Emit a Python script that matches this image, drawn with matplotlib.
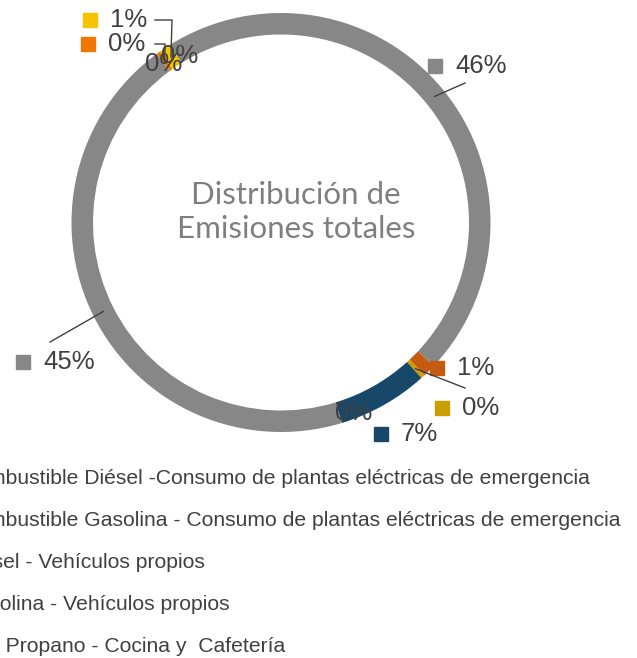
import matplotlib
matplotlib.use('Agg')
import matplotlib.pyplot as plt
import numpy as np

W, H = 637, 658

# slices, clockwise from the top-left
values = [45.9, 1.0, 0.3, 7.0, 0.0, 44.6, 0.0, 0.3, 0.9, 0.0]
colors = ['#878787', '#C55A11', '#C9A000', '#17486A', '#878787',
          '#878787', '#878787', '#F07800', '#F5C400', '#878787']

legend_labels = [
    "Combustible Diésel -Consumo de plantas eléctricas de emergencia",
    "Combustible Gasolina - Consumo de plantas eléctricas de emergencia",
    "Diésel - Vehículos propios",
    "Gasolina - Vehículos propios",
    "Gas Propano - Cocina y  Cafetería",
]

# label layout (image pixels, y down): text left x, text centre y
label_pos = {0: (455, 66), 1: (457, 368), 2: (462, 408), 3: (401, 434),
             5: (43, 362), 7: (108, 44), 8: (110, 20)}
ring_label_shift = {4: (15, 0), 6: (0, 2), 9: (4, 2)}
leaders = {0: [(465, 83)], 2: [(465, 388)], 5: [(50, 342)],
           7: [(165, 44), (155, 44)], 8: [(172, 20), (155, 20)]}

CX, CY, R, RW = 281, 222.5, 209.5, 21.5
TXT = '#404040'

fig = plt.figure(figsize=(W / 100, H / 100), dpi=100)
ax = fig.add_axes([0, 0, 1, 1])

# y axis is inverted (image coords), so counterclock=True draws clockwise on screen
wedges, _ = ax.pie(values, colors=colors, startangle=-122, counterclock=True,
                   radius=R, center=(CX, CY),
                   wedgeprops=dict(width=RW, linewidth=0))
ax.set_xlim(0, W)
ax.set_ylim(H, 0)
ax.set_aspect('auto')
ax.axis('off')

rmid = R - RW / 2
for i, w in enumerate(wedges):
    ang = np.deg2rad((w.theta1 + w.theta2) / 2)
    px, py = CX + rmid * np.cos(ang), CY + rmid * np.sin(ang)
    txt = f"{values[i]:.0f}%"
    if i in label_pos:
        tx, ty = label_pos[i]
        ax.text(tx, ty, txt, ha='left', va='center', fontsize=18.5,
                color=TXT, family='Liberation Sans')
        ax.plot(tx - 20, ty, marker='s', markersize=9.5, color=colors[i],
                linestyle='none')
    else:
        dx, dy = ring_label_shift[i]
        ax.text(px + dx, py + dy, txt, ha='center', va='center', fontsize=18.5,
                color=TXT, family='Liberation Sans')
    if i in leaders:
        pts = [(px, py)] + leaders[i]
        ax.plot([p[0] for p in pts], [p[1] for p in pts], color=TXT, lw=1)

ax.text(296, 212, "Distribución de\nEmisiones totales", ha='center', va='center',
        fontsize=22.5, color='#7F7F7F', family='Lato', linespacing=1.25)

for k, lab in enumerate(legend_labels):
    ax.text(-39, 478 + 42 * k, lab, ha='left', va='center', fontsize=15.2,
            color=TXT, family='Liberation Sans')

fig.savefig('out.png', dpi=100)
